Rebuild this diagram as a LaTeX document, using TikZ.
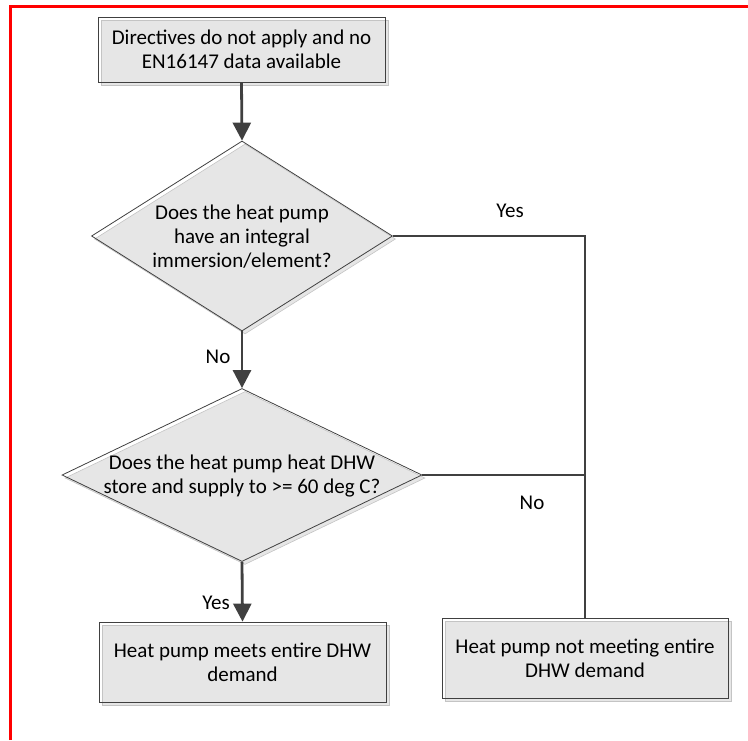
\documentclass[tikz,border=0pt]{standalone}
\usepackage{fontspec}
\setmainfont{Carlito}
\usetikzlibrary{arrows.meta,shapes.geometric,shadows}
\definecolor{fillg}{HTML}{E6E6E6}
\definecolor{lineg}{HTML}{404040}
\definecolor{shadg}{HTML}{C4C4C4}
\begin{document}
\begin{tikzpicture}[x=1pt,y=-1pt,
  font=\fontsize{21}{24}\selectfont,
  shbox/.style={general shadow={shadow xshift=3pt, shadow yshift=-3pt, fill=fillg, draw=shadg, line width=0.6pt}},
  box/.style={rectangle, draw=lineg, line width=0.8pt, inner sep=0pt, align=center, shbox},
  dia/.style={diamond, draw=lineg, line width=0.8pt, inner sep=0pt, shbox},
  txt/.style={align=center, inner sep=0pt},
  conn/.style={draw=lineg, line width=2.8pt},
  thinconn/.style={draw=lineg, line width=1.2pt},
  tip/.style={-{Triangle[width=18pt,length=18pt]}},
  lbl/.style={inner sep=0pt}]
\useasboundingbox (0,0) rectangle (748,740);
% frame
\draw[red, line width=2.6pt] (10.3,740) -- (10.3,6.2) -- (748,6.2);
% nodes
\node[box, minimum width=287pt, minimum height=65pt] (b1) at (241.5,49.5)
  {Directives do not apply and no\\EN16147 data available};
\node[dia, minimum width=301pt, minimum height=190pt] (d1) at (242,236) {};
\node[txt] (d1t) at (242,237) {Does the heat pump\\have an integral\\immersion/element?};
\node[dia, minimum width=360pt, minimum height=173pt] (d2) at (242,475) {};
\node[txt] (d2t) at (242,476) {Does the heat pump heat DHW\\store and supply to >= 60 deg C?};
\node[box, minimum width=287pt, minimum height=80pt] (b3) at (242.5,662)
  {Heat pump meets entire DHW\\demand};
\node[box, minimum width=286pt, minimum height=80pt] (b4) at (585,658)
  {Heat pump not meeting entire\\DHW demand};
% junction points
\coordinate (j1) at (585,236);
\coordinate (j2) at (585,603);
\coordinate (j3) at (585,475);
% connectors
\draw[conn,tip] (b1.south) -- (d1.north);
\draw[conn,tip] (d1.south) -- (d2.north);
\draw[conn,tip] (d2.south) -- (b3.north);
\draw[conn] (d1.east) -- (j1) -- (j2);
\draw[thinconn] (d2.east) -- (j3);
\draw[thinconn] (j3) -- (b4.north);
% labels
\node[lbl] (lyes1) at (510,211) {Yes};
\node[lbl] (lno1) at (218,357) {No};
\node[lbl] (lno2) at (532,503) {No};
\node[lbl] (lyes2) at (216,603) {Yes};
\end{tikzpicture}
\end{document}
